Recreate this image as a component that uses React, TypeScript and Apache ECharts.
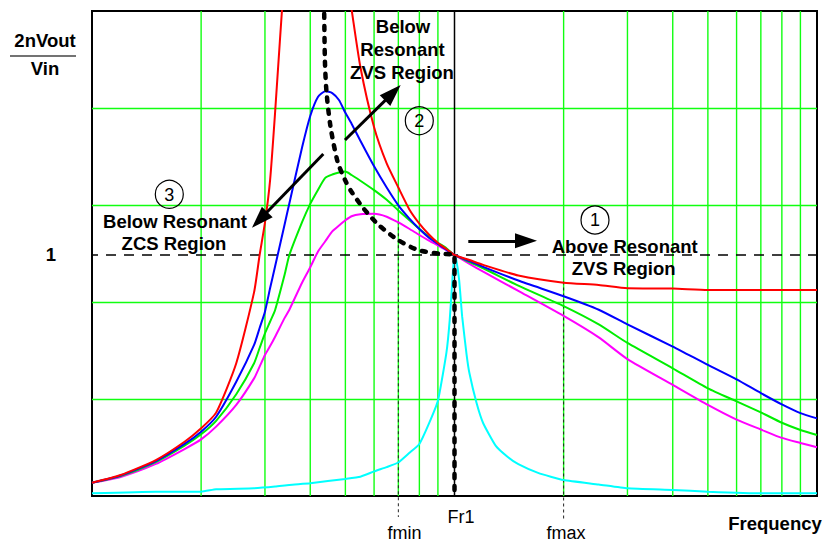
import React, { useEffect, useRef } from 'react';
import * as echarts from 'echarts';

// ---- axis ranges ----
const F_MIN = 0.1;
const F_MAX = 10;
const YMAX = 2.0125;

// ---- frequency samples (normalised to Fr1 = 1) ----
const FREQ = [0.1, 0.12, 0.15, 0.18, 0.2, 0.22, 0.25, 0.28, 0.29, 0.3, 0.31, 0.32, 0.34, 0.35, 0.38, 0.4, 0.42, 0.44, 0.46, 0.48, 0.5, 0.52, 0.55, 0.6, 0.65, 0.7, 0.75, 0.8, 0.85, 0.9, 0.95, 1.0, 1.1, 1.2, 1.5, 2, 2.5, 3, 4, 5, 6, 7, 8, 9, 10];

const RED = [0.055, 0.087, 0.149, 0.225, 0.281, 0.346, 0.551, 0.846, 1.0, 1.134, 1.312, 1.593, 2.18, 2.4, 3.0, 3.3, 3.5, 3.5, 3.2, 2.7, 2.19, 2.02, 1.78, 1.53, 1.38, 1.28, 1.19, 1.13, 1.085, 1.05, 1.025, 1.0, 0.979, 0.959, 0.915, 0.885, 0.876, 0.862, 0.861, 0.855, 0.855, 0.855, 0.855, 0.855, 0.855];
const BLUE = [0.055, 0.085, 0.145, 0.216, 0.267, 0.329, 0.474, 0.627, 0.697, 0.765, 0.863, 0.953, 1.128, 1.212, 1.448, 1.577, 1.656, 1.68, 1.672, 1.643, 1.59, 1.545, 1.474, 1.368, 1.28, 1.206, 1.152, 1.108, 1.072, 1.046, 1.022, 1.0, 0.975, 0.951, 0.894, 0.829, 0.773, 0.712, 0.62, 0.544, 0.484, 0.427, 0.38, 0.344, 0.322];
const GREEN = [0.055, 0.083, 0.141, 0.209, 0.256, 0.312, 0.422, 0.551, 0.614, 0.675, 0.724, 0.772, 0.919, 0.998, 1.137, 1.212, 1.27, 1.32, 1.334, 1.342, 1.346, 1.332, 1.308, 1.269, 1.229, 1.185, 1.145, 1.108, 1.077, 1.051, 1.028, 1.0, 0.971, 0.945, 0.873, 0.788, 0.712, 0.635, 0.53, 0.447, 0.393, 0.347, 0.304, 0.274, 0.253];
const MAGENTA = [0.055, 0.079, 0.133, 0.195, 0.235, 0.288, 0.378, 0.488, 0.537, 0.585, 0.622, 0.661, 0.739, 0.772, 0.886, 0.949, 1.014, 1.057, 1.098, 1.122, 1.144, 1.161, 1.169, 1.171, 1.159, 1.135, 1.109, 1.083, 1.06, 1.04, 1.02, 1.0, 0.963, 0.931, 0.851, 0.747, 0.658, 0.568, 0.461, 0.378, 0.317, 0.276, 0.241, 0.22, 0.202];

const CYAN_FREQ = [0.1, 0.15, 0.2, 0.22, 0.28, 0.32, 0.35, 0.4, 0.5, 0.55, 0.6, 0.65, 0.7, 0.75, 0.8, 0.85, 0.9, 0.95, 0.97, 0.99, 1.0, 1.01, 1.03, 1.05, 1.08, 1.1, 1.15, 1.2, 1.3, 1.4, 1.5, 1.7, 2, 2.5, 3, 4, 5, 7, 10];
const CYAN = [0.011, 0.018, 0.018, 0.028, 0.032, 0.039, 0.046, 0.053, 0.071, 0.08, 0.102, 0.12, 0.139, 0.178, 0.216, 0.3, 0.395, 0.595, 0.73, 0.93, 1.0, 0.985, 0.896, 0.744, 0.586, 0.508, 0.387, 0.302, 0.208, 0.163, 0.132, 0.096, 0.066, 0.048, 0.032, 0.025, 0.018, 0.011, 0.011];

// peak-gain locus (black thick dashed)
const LOCUS_FREQ = [0.436, 0.439, 0.4435, 0.455, 0.476, 0.499, 0.518, 0.56, 0.615, 0.699, 0.793, 0.912, 1.0, 1.0];
const LOCUS_GAIN = [2.15, 1.809, 1.676, 1.532, 1.386, 1.311, 1.266, 1.195, 1.127, 1.062, 1.021, 1.005, 1.0, 0];

// vertical log grid lines
const V_GRID = [0.2, 0.3, 0.4, 0.5, 0.6, 0.7, 0.8, 0.9, 2, 3, 4, 5, 6, 7, 8, 9];

// reference markers
const FR1 = 1;
const FMIN = 0.7;
const FMAX = 2;
const FMIN_RANGE = [1.14, -0.087];
const FMAX_RANGE = [0.89, -0.1];
const UNITY_RANGE = [0.0975, 10.25];

// annotation arrows [from, to] in (frequency, gain)
const ARROWS = [
  [[1.0916, 1.059], [1.575, 1.059]],
  [[0.4988, 1.477], [0.676, 1.673]],
  [[0.4346, 1.419], [0.29, 1.146]],
];

const FONT = '"Liberation Sans", Arial, sans-serif';
const GRID_GREEN = '#10ff10';

const pairs = (xs: number[], ys: number[]) => xs.map((x, i) => [x, ys[i]]);

const txt = (text: string, x: number, y: number, size: number, bold: boolean) => ({
  type: 'text',
  x,
  y,
  z: 100,
  silent: true,
  style: {
    text,
    fontSize: size,
    fontWeight: bold ? 'bold' : 'normal',
    fontFamily: FONT,
    fill: '#000',
    align: 'center',
    verticalAlign: 'middle',
    textAlign: 'center',
    textVerticalAlign: 'middle',
  },
});

const circ = (cx: number, cy: number) => ({
  type: 'circle',
  z: 100,
  silent: true,
  shape: { cx, cy, r: 14 },
  style: { fill: 'rgba(255,255,255,0)', stroke: '#000', lineWidth: 1.2 },
});

const curve = (name: string, color: string, xs: number[], ys: number[], smooth = 0.2) => ({
  name,
  type: 'line',
  data: pairs(xs, ys),
  showSymbol: false,
  symbol: 'none',
  clip: true,
  smooth,
  z: 4,
  silent: true,
  lineStyle: { color, width: 2 },
});

export default function App() {
  const ref = useRef<HTMLDivElement>(null);

  useEffect(() => {
    if (!ref.current) return;
    const chart = echarts.init(ref.current, null, { renderer: 'svg' });

    const gridData: any[] = [];
    V_GRID.forEach((f) => {
      gridData.push([f, 0], [f, YMAX], [f, '-']);
    });

    const option: any = {
      animation: false,
      backgroundColor: '#fff',
      grid: {
        left: 92,
        top: 11,
        width: 725,
        height: 485,
        show: true,
        borderColor: '#000',
        borderWidth: 2,
        backgroundColor: '#fff',
      },
      xAxis: {
        type: 'log',
        logBase: 10,
        min: F_MIN,
        max: F_MAX,
        axisLine: { show: false },
        axisTick: { show: false },
        axisLabel: { show: false },
        splitLine: { show: false },
      },
      yAxis: {
        type: 'value',
        min: 0,
        max: YMAX,
        interval: YMAX / 5,
        axisLine: { show: false },
        axisTick: { show: false },
        axisLabel: { show: false },
        splitLine: {
          show: true,
          showMinLine: false,
          showMaxLine: false,
          lineStyle: { color: GRID_GREEN, width: 1.4 },
        },
      },
      series: [
        {
          name: 'vgrid',
          type: 'line',
          data: gridData,
          symbol: 'none',
          showSymbol: false,
          connectNulls: false,
          z: 1,
          silent: true,
          lineStyle: { color: GRID_GREEN, width: 1.4 },
        },
        {
          name: 'Fr1',
          type: 'line',
          data: [[FR1, 0], [FR1, YMAX]],
          symbol: 'none',
          z: 3,
          silent: true,
          clip: false,
          lineStyle: { color: '#000', width: 1.5 },
          markLine: {
            silent: true,
            symbol: ['none', 'triangle'],
            symbolSize: 18,
            label: { show: false },
            emphasis: { disabled: true },
            lineStyle: { color: '#000', width: 3, type: 'solid' },
            itemStyle: { color: '#000' },
            data: ARROWS.map(([a, b]) => [
              { coord: a },
              { coord: b, symbolSize: [15, 22] },
            ]),
          },
        },
        {
          name: 'unity',
          type: 'line',
          data: [[UNITY_RANGE[0], 1], [UNITY_RANGE[1], 1]],
          symbol: 'none',
          z: 3,
          silent: true,
          clip: false,
          lineStyle: { color: '#000', width: 1.5, type: [10, 8] },
        },
        {
          name: 'fmin',
          type: 'line',
          data: [[FMIN, FMIN_RANGE[0]], [FMIN, FMIN_RANGE[1]]],
          symbol: 'none',
          z: 3,
          silent: true,
          clip: false,
          lineStyle: { color: '#222', width: 1, type: [3, 3] },
        },
        {
          name: 'fmax',
          type: 'line',
          data: [[FMAX, FMAX_RANGE[0]], [FMAX, FMAX_RANGE[1]]],
          symbol: 'none',
          z: 3,
          silent: true,
          clip: false,
          lineStyle: { color: '#222', width: 1, type: [3, 3] },
        },
        curve('cyan', '#00ffff', CYAN_FREQ, CYAN, 0.15),
        curve('magenta', '#ff00ff', FREQ, MAGENTA),
        curve('green', '#00ee00', FREQ, GREEN),
        curve('blue', '#0000ff', FREQ, BLUE),
        curve('red', '#ff0000', FREQ, RED),
        {
          name: 'locus',
          type: 'line',
          data: pairs(LOCUS_FREQ, LOCUS_GAIN),
          symbol: 'none',
          z: 6,
          silent: true,
          clip: true,
          smooth: 0.25,
          lineStyle: { color: '#000', width: 4.5, type: [4, 8], cap: 'round' },
        },
      ],
      graphic: [
        txt('2nVout', 45, 40, 18.5, true),
        {
          type: 'line',
          z: 100,
          silent: true,
          shape: { x1: 10, y1: 56, x2: 76, y2: 56 },
          style: { stroke: '#444', lineWidth: 1.5 },
        },
        txt('Vin', 45, 68, 18.5, true),
        txt('1', 51, 254, 18.5, true),
        txt('Fr1', 461, 517, 18, false),
        txt('fmin', 404.5, 532.5, 18, false),
        txt('fmax', 566, 532.5, 18, false),
        txt('Frequency', 775, 523.5, 18.5, true),
        txt('Below', 403, 26.7, 18.5, true),
        txt('Resonant', 402.5, 49.5, 18.5, true),
        txt('ZVS Region', 402, 72, 18.5, true),
        circ(419.3, 120.7),
        txt('2', 419.3, 121, 18, false),
        circ(169.3, 194.3),
        txt('3', 169.3, 194.6, 18, false),
        txt('Below Resonant', 175, 221.5, 18.5, true),
        txt('ZCS Region', 174, 243.5, 18.5, true),
        circ(595, 220),
        txt('1', 595, 220.3, 18, false),
        txt('Above Resonant', 624.7, 246.7, 18.5, true),
        txt('ZVS Region', 623.7, 268.3, 18.5, true),
      ],
    };

    chart.setOption(option);
    return () => chart.dispose();
  }, []);

  return (
    <div
      ref={ref}
      style={{ position: 'absolute', left: 0, top: 0, width: 824, height: 542, background: '#fff' }}
    />
  );
}
